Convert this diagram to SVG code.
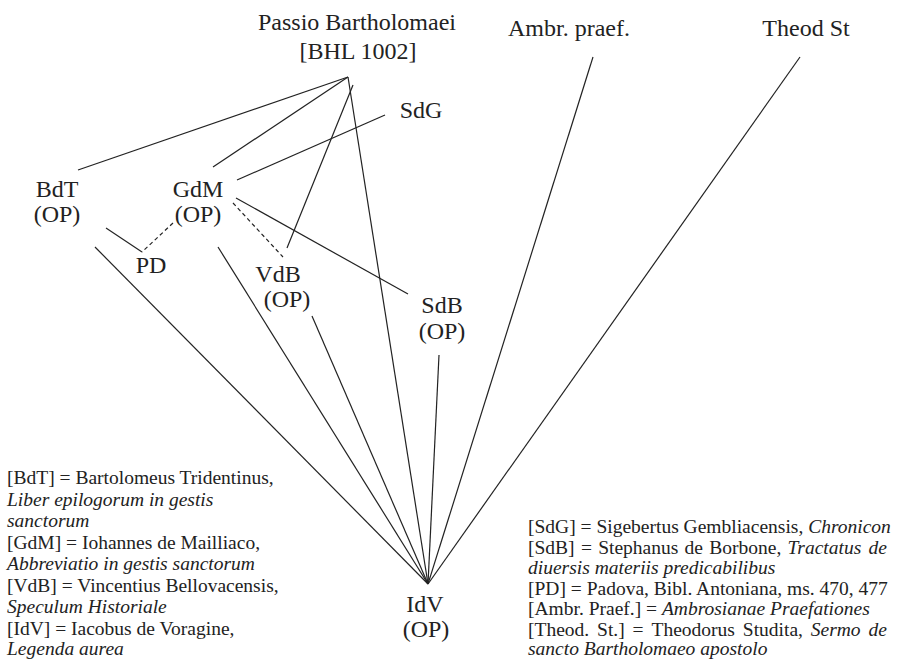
<svg xmlns="http://www.w3.org/2000/svg" width="902" height="659" viewBox="0 0 902 659">
<style>
.n{font-family:"Liberation Serif","Times New Roman",serif;font-size:24px;fill:#222;text-anchor:middle}
.l{font-family:"Liberation Serif","Times New Roman",serif;font-size:19.5px;fill:#222}
.i{font-style:italic}
.e{stroke:#222;stroke-width:1.2;fill:none}
.d{stroke-dasharray:4 3}
</style>
<rect width="902" height="659" fill="#fff"/>
<g id="connectors">
<line class="e" x1="348" y1="77" x2="78" y2="170"/>
<line class="e" x1="348" y1="77" x2="213" y2="167"/>
<line class="e" x1="353" y1="85" x2="287" y2="248"/>
<line class="e" x1="348" y1="77" x2="428" y2="584"/>
<line class="e" x1="385" y1="115" x2="237" y2="180"/>
<line class="e" x1="236" y1="198" x2="408" y2="294"/>
<line class="e d" x1="233" y1="203" x2="283" y2="257"/>
<line class="e d" x1="173" y1="223" x2="142" y2="252"/>
<line class="e" x1="106" y1="228" x2="142" y2="252"/>
<line class="e" x1="95" y1="247" x2="428" y2="584"/>
<line class="e" x1="218" y1="247" x2="428" y2="584"/>
<line class="e" x1="312" y1="316" x2="428" y2="584"/>
<line class="e" x1="439" y1="355" x2="428" y2="584"/>
<line class="e" x1="593" y1="57" x2="428" y2="584"/>
<line class="e" x1="800" y1="57" x2="428" y2="584"/>
</g>
<g id="passio"><text class="n" x="357" y="30">Passio Bartholomaei</text><text class="n" x="358" y="59">[BHL 1002]</text></g>
<g id="ambr"><text class="n" x="569" y="36">Ambr. praef.</text></g>
<g id="theod"><text class="n" x="806" y="36">Theod St</text></g>
<g id="sdg"><text class="n" x="421" y="118">SdG</text></g>
<g id="bdt"><text class="n" x="57" y="197">BdT</text><text class="n" x="57" y="222">(OP)</text></g>
<g id="gdm"><text class="n" x="198" y="197">GdM</text><text class="n" x="198" y="222">(OP)</text></g>
<g id="pd"><text class="n" x="151" y="273">PD</text></g>
<g id="vdb"><text class="n" x="278" y="282">VdB</text><text class="n" x="287" y="307">(OP)</text></g>
<g id="sdb"><text class="n" x="442" y="313">SdB</text><text class="n" x="442" y="339">(OP)</text></g>
<g id="idv"><text class="n" x="425" y="612">IdV</text><text class="n" x="426" y="637">(OP)</text></g>
<g id="legend-left">
<text class="l" x="7" y="484">[BdT] = Bartolomeus Tridentinus,</text>
<text class="l i" x="7" y="505.5">Liber epilogorum in gestis</text>
<text class="l i" x="7" y="527">sanctorum</text>
<text class="l" x="7" y="548.5">[GdM] = Iohannes de Mailliaco,</text>
<text class="l i" x="7" y="570">Abbreviatio in gestis sanctorum</text>
<text class="l" x="7" y="591.5">[VdB] = Vincentius Bellovacensis,</text>
<text class="l i" x="7" y="613">Speculum Historiale</text>
<text class="l" x="7" y="634.5">[IdV] = Iacobus de Voragine,</text>
<text class="l i" x="7" y="655">Legenda aurea</text>
</g>
<g id="legend-right">
<text class="l" x="528" y="533">[SdG] = Sigebertus Gembliacensis, <tspan class="i">Chronicon</tspan></text>
<text class="l" y="553.5"><tspan x="528">[SdB]</tspan><tspan x="580.9">=</tspan><tspan x="598.2">Stephanus</tspan><tspan x="684.6">de</tspan><tspan x="709.3">Borbone,</tspan><tspan class="i" x="787.6">Tractatus</tspan><tspan class="i" x="868.6">de</tspan></text>
<text class="l i" x="528" y="574">diuersis materiis predicabilibus</text>
<text class="l" x="528" y="594.5">[PD] = Padova, Bibl. Antoniana, ms. 470, 477</text>
<text class="l" x="528" y="615">[Ambr. Praef.] = <tspan class="i">Ambrosianae Praefationes</tspan></text>
<text class="l" y="635.5"><tspan x="528">[Theod.</tspan><tspan x="597.1">St.]</tspan><tspan x="632.6">=</tspan><tspan x="651.5">Theodorus</tspan><tspan x="742.8">Studita,</tspan><tspan class="i" x="810.8">Sermo</tspan><tspan class="i" x="868.5">de</tspan></text>
<text class="l i" x="528" y="655">sancto Bartholomaeo apostolo</text>
</g>
</svg>
